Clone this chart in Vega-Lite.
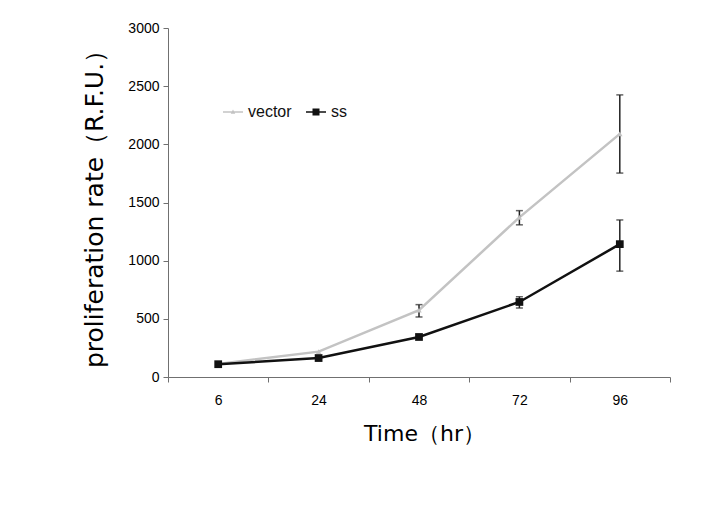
{
  "$schema": "https://vega.github.io/schema/vega-lite/v6.json",
  "width": 502,
  "height": 349,
  "autosize": "none",
  "padding": {"left": 168, "top": 28, "right": 52, "bottom": 140},
  "background": "white",
  "config": {
    "view": {"stroke": null},
    "font": "Liberation Sans",
    "axis": {"labelFont": "Liberation Sans", "titleFont": "DejaVu Sans", "grid": false, "domainColor": "#707070", "tickColor": "#707070", "labelColor": "#000", "titleColor": "#000"}
  },
  "data": {
    "values": [
      {"time": "6", "series": "vector", "value": 112, "lo": null, "hi": null},
      {"time": "24", "series": "vector", "value": 218, "lo": null, "hi": null},
      {"time": "48", "series": "vector", "value": 575, "lo": 516, "hi": 622},
      {"time": "72", "series": "vector", "value": 1372, "lo": 1308, "hi": 1430},
      {"time": "96", "series": "vector", "value": 2090, "lo": 1753, "hi": 2425},
      {"time": "6", "series": "ss", "value": 110, "lo": null, "hi": null},
      {"time": "24", "series": "ss", "value": 163, "lo": null, "hi": null},
      {"time": "48", "series": "ss", "value": 344, "lo": null, "hi": null},
      {"time": "72", "series": "ss", "value": 645, "lo": 593, "hi": 690},
      {"time": "96", "series": "ss", "value": 1142, "lo": 910, "hi": 1350}
    ]
  },
  "encoding": {
    "x": {
      "field": "time", "type": "ordinal", "sort": ["6", "24", "48", "72", "96"],
      "scale": {"type": "band", "paddingInner": 0, "paddingOuter": 0},
      "axis": {"title": "Time（hr）", "labelAngle": 0, "labelFontSize": 14, "labelPadding": 11, "tickBand": "extent", "tickSize": 5, "titleFontSize": 22, "titleFontWeight": "normal", "titlePadding": 16, "titleX": 256}
    },
    "y": {
      "field": "value", "type": "quantitative",
      "scale": {"domain": [0, 3000], "nice": false},
      "axis": {"title": "proliferation rate（R.F.U.）", "format": "d", "values": [0, 500, 1000, 1500, 2000, 2500, 3000], "labelFontSize": 14, "labelPadding": 4, "tickSize": 5, "titleFontSize": 25, "titleFontWeight": "normal", "titlePadding": 20}
    }
  },
  "layer": [
    {"transform": [{"filter": "datum.series == 'vector'"}], "mark": {"type": "line", "color": "#c3c3c3", "strokeWidth": 2.5}},
    {"transform": [{"filter": "datum.series == 'ss'"}], "mark": {"type": "line", "color": "#111111", "strokeWidth": 2.5}},
    {"transform": [{"filter": "datum.lo != null"}], "mark": {"type": "rule", "color": "#222", "strokeWidth": 1.5}, "encoding": {"y": {"field": "lo", "type": "quantitative"}, "y2": {"field": "hi"}}},
    {"transform": [{"filter": "datum.lo != null"}], "mark": {"type": "tick", "color": "#222", "thickness": 1.5, "size": 7}, "encoding": {"y": {"field": "lo", "type": "quantitative"}}},
    {"transform": [{"filter": "datum.lo != null"}], "mark": {"type": "tick", "color": "#222", "thickness": 1.5, "size": 7}, "encoding": {"y": {"field": "hi", "type": "quantitative"}}},
    {"transform": [{"filter": "datum.series == 'vector'"}], "mark": {"type": "point", "shape": "triangle-up", "filled": true, "color": "#c3c3c3", "size": 30, "opacity": 1}},
    {"transform": [{"filter": "datum.series == 'ss'"}], "mark": {"type": "point", "shape": "square", "filled": true, "color": "#111111", "size": 60, "opacity": 1}},
    {
      "mark": {"type": "point", "filled": true, "opacity": 0},
      "encoding": {
        "color": {"field": "series", "type": "nominal", "scale": {"domain": ["vector", "ss"], "range": ["#c3c3c3", "#111111"]},
          "legend": {"title": null, "orient": "none", "legendX": 57, "legendY": 76, "direction": "horizontal", "symbolOpacity": 1, "symbolSize": 100, "labelFontSize": 16, "labelColor": "#111", "columnPadding": 14, "labelOffset": 7, "symbolStrokeWidth": 0}},
        "shape": {"field": "series", "type": "nominal", "scale": {"domain": ["vector", "ss"], "range": ["M-2,-0.13H2V0.13H-2Z M0,-0.5L0.45,0.35H-0.45Z", "M-2,-0.15H2V0.15H-2Z M-0.7,-0.7H0.7V0.7H-0.7Z"]},
          "legend": {"title": null, "orient": "none", "legendX": 57, "legendY": 76, "direction": "horizontal", "symbolOpacity": 1, "symbolSize": 100, "labelFontSize": 16, "labelColor": "#111", "columnPadding": 14, "labelOffset": 7, "symbolStrokeWidth": 0}}
      }
    }
  ]
}
